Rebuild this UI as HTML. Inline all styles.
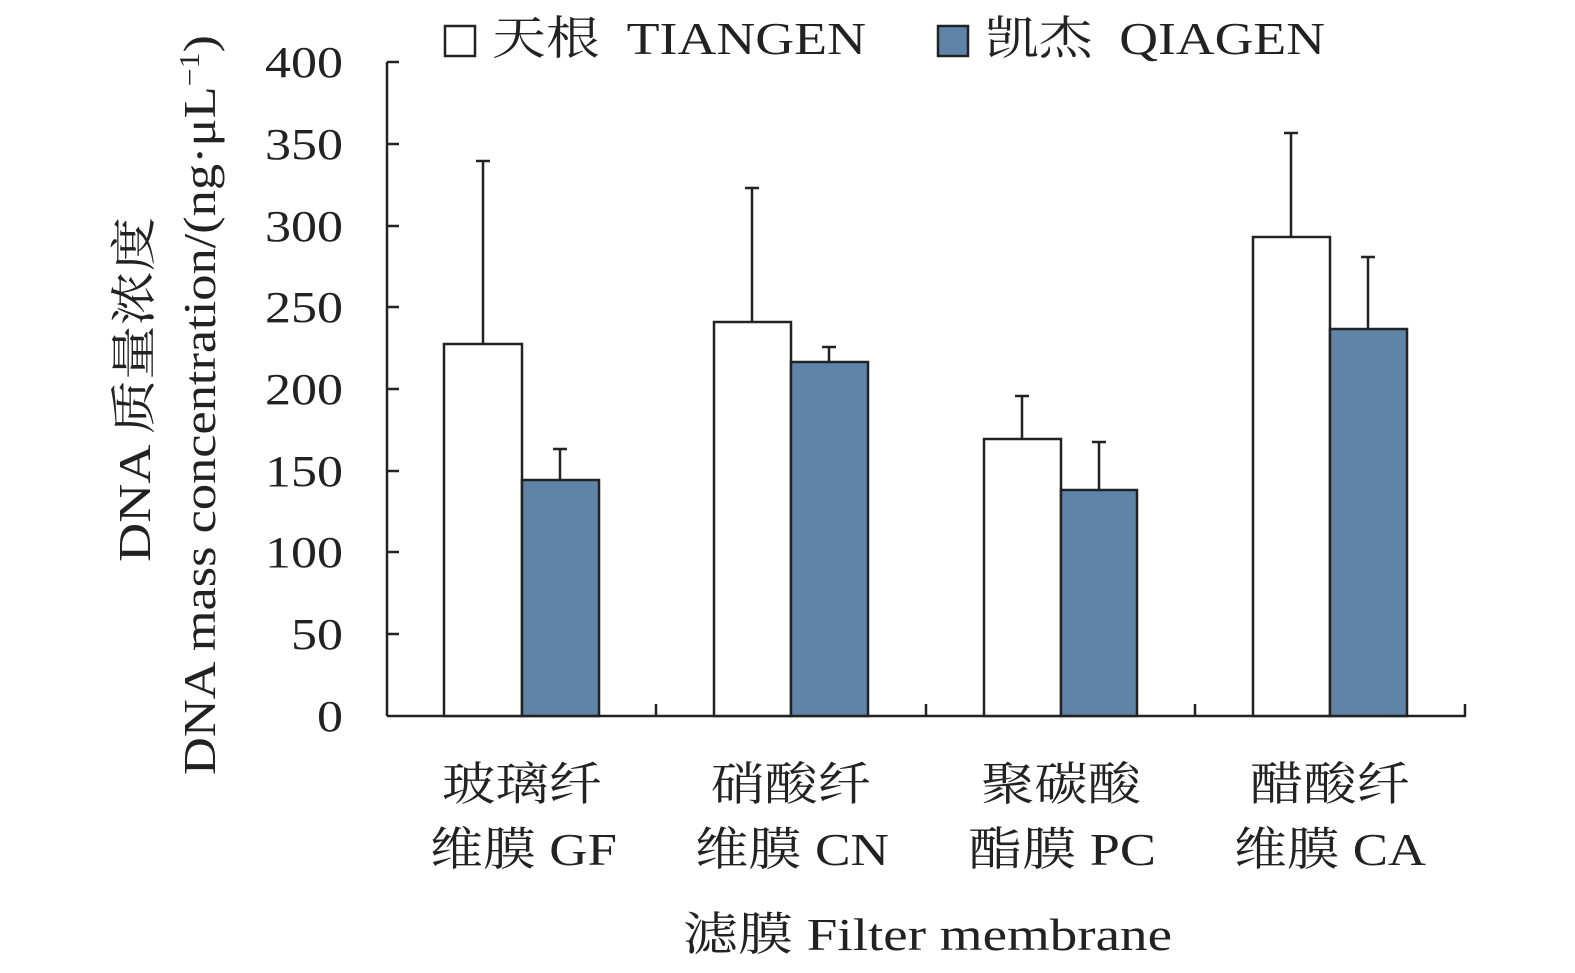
<!DOCTYPE html>
<html><head><meta charset="utf-8"><style>html,body{margin:0;padding:0;background:#fff;overflow:hidden}svg{display:block}</style></head>
<body>
<svg width="1575" height="973" viewBox="0 0 1575 973" xmlns="http://www.w3.org/2000/svg" font-family="Liberation Serif, Noto Serif CJK SC, serif" fill="#222">
<g stroke="#222" stroke-width="2.5" fill="none">
<line x1="387" y1="62" x2="387" y2="716"/>
<line x1="387" y1="716" x2="1466" y2="716"/>
<line x1="387" y1="62" x2="399" y2="62"/><line x1="387" y1="144" x2="399" y2="144"/>
<line x1="387" y1="226" x2="399" y2="226"/><line x1="387" y1="307" x2="399" y2="307"/>
<line x1="387" y1="389" x2="399" y2="389"/><line x1="387" y1="471" x2="399" y2="471"/>
<line x1="387" y1="552" x2="399" y2="552"/><line x1="387" y1="634" x2="399" y2="634"/>
<line x1="656" y1="716" x2="656" y2="704"/><line x1="926" y1="716" x2="926" y2="704"/>
<line x1="1195" y1="716" x2="1195" y2="704"/><line x1="1465" y1="716" x2="1465" y2="704"/>
<path d="M483 344V161M476 161H490 M560 480V449M553 449H567 M752 322V188M745 188H759 M829 362V347M822 347H836 M1022 439V396M1015 396H1029 M1099 490V442M1092 442H1106 M1291 237V133M1284 133H1298 M1368 329V257M1361 257H1375"/>
<rect x="444" y="344" width="78" height="372" fill="#fff"/>
<rect x="522" y="480" width="77" height="236" fill="#5f84a7"/>
<rect x="714" y="322" width="77" height="394" fill="#fff"/>
<rect x="791" y="362" width="77" height="354" fill="#5f84a7"/>
<rect x="984" y="439" width="77" height="277" fill="#fff"/>
<rect x="1061" y="490" width="76" height="226" fill="#5f84a7"/>
<rect x="1253" y="237" width="77" height="479" fill="#fff"/>
<rect x="1330" y="329" width="77" height="387" fill="#5f84a7"/>
<rect x="445" y="26" width="30" height="30" fill="#fff"/>
<rect x="938" y="26" width="30" height="30" fill="#5f84a7"/>
</g>
<g font-size="44" text-anchor="end" lengthAdjust="spacingAndGlyphs">
<text x="343" y="77" textLength="78" lengthAdjust="spacingAndGlyphs">400</text><text x="343" y="159" textLength="78" lengthAdjust="spacingAndGlyphs">350</text><text x="343" y="241" textLength="78" lengthAdjust="spacingAndGlyphs">300</text>
<text x="343" y="322" textLength="78" lengthAdjust="spacingAndGlyphs">250</text><text x="343" y="404" textLength="78" lengthAdjust="spacingAndGlyphs">200</text><text x="343" y="486" textLength="78" lengthAdjust="spacingAndGlyphs">150</text>
<text x="343" y="567" textLength="78" lengthAdjust="spacingAndGlyphs">100</text><text x="343" y="649" textLength="52" lengthAdjust="spacingAndGlyphs">50</text><text x="343" y="731" textLength="26" lengthAdjust="spacingAndGlyphs">0</text>
</g>
<g font-size="46">
<text x="492" y="54" textLength="374" lengthAdjust="spacingAndGlyphs" xml:space="preserve">天根  TIANGEN</text>
<text x="985" y="54" textLength="340" lengthAdjust="spacingAndGlyphs" xml:space="preserve">凯杰  QIAGEN</text>
<text x="442" y="800" textLength="160" lengthAdjust="spacingAndGlyphs">玻璃纤</text><text x="430" y="865" textLength="187" lengthAdjust="spacingAndGlyphs">维膜 GF</text>
<text x="711" y="800" textLength="160" lengthAdjust="spacingAndGlyphs">硝酸纤</text><text x="695" y="865" textLength="194" lengthAdjust="spacingAndGlyphs">维膜 CN</text>
<text x="981" y="800" textLength="160" lengthAdjust="spacingAndGlyphs">聚碳酸</text><text x="968" y="865" textLength="188" lengthAdjust="spacingAndGlyphs">酯膜 PC</text>
<text x="1250" y="800" textLength="160" lengthAdjust="spacingAndGlyphs">醋酸纤</text><text x="1234" y="865" textLength="192" lengthAdjust="spacingAndGlyphs">维膜 CA</text>
<text x="683" y="950" textLength="489" lengthAdjust="spacingAndGlyphs">滤膜 Filter membrane</text>
<text transform="translate(150,562) rotate(-90)" textLength="345" lengthAdjust="spacingAndGlyphs">DNA 质量浓度</text>
<text transform="translate(215,775) rotate(-90)" textLength="740" lengthAdjust="spacingAndGlyphs">DNA mass concentration/(ng·μL<tspan font-size="28" dy="-16">−1</tspan><tspan dy="16">)</tspan></text>
</g>
</svg>
</body></html>
